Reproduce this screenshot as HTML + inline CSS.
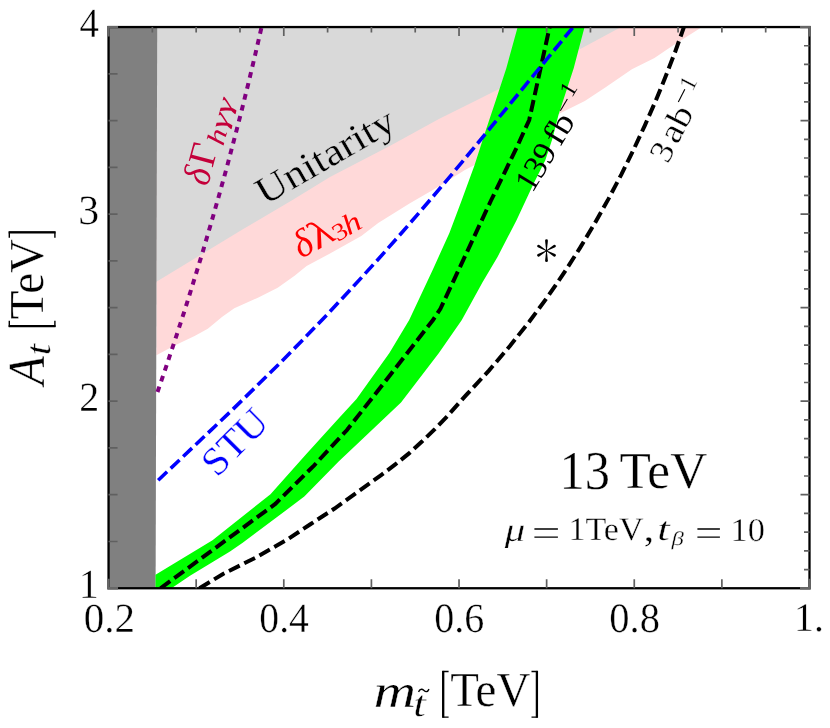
<!DOCTYPE html>
<html>
<head>
<meta charset="utf-8">
<title>Chart</title>
<style>
html,body{margin:0;padding:0;background:#fff;}
body{width:830px;height:728px;overflow:hidden;font-family:"Liberation Serif",serif;}
svg{display:block;will-change:transform;}
text{font-family:"Liberation Serif",serif;text-rendering:geometricPrecision;}
</style>
</head>
<body>
<svg width="830" height="728" viewBox="0 0 830 728">
<defs>
<clipPath id="plot"><rect x="108.55" y="27.05" width="700.95" height="561.20"/></clipPath>
</defs>
<rect x="0" y="0" width="830" height="728" fill="#ffffff"/>
<g clip-path="url(#plot)">
<path id="pink" fill="#ffd9d9" d="M156.4,27.0 L701.6,27.0 L701.6,27.2 L672.9,45.6 L654.5,57.9 L631.9,69.2 L605.3,87.6 L584.8,100.9 L560.2,113.2 L520.0,139.0 L474.6,165.1 L464.9,169.9 L438.4,186.7 L409.5,203.6 L378.2,222.9 L361.3,236.1 L330.0,253.5 L306.6,266.1 L294.6,275.8 L277.7,287.8 L258.4,297.5 L234.3,308.3 L222.3,316.7 L207.8,328.8 L194.6,336.0 L174.1,345.7 L156.4,355.3 Z"/>
<path id="lgray" fill="#d9d9d9" d="M156.4,27.0 L620.7,27.2 L580.7,48.7 L540.0,68.5 L500.0,88.5 L474.6,101.2 L438.4,119.3 L390.2,145.8 L330.0,177.1 L292.5,200.0 L241.6,230.0 L156.4,281.8 Z"/>
<path id="dgray" d="M108,27H157.2L155.6,588H108Z" fill="#808080"/>
<path id="green" fill="#00ff00" d="M155.5,574.8 L212.5,540.3 L270.5,494.2 L305.9,454.6 L337.2,420.0 L356.5,399.1 L389.4,353.0 L409.2,320.0 L433.0,269.2 L449.4,233.0 L461.8,200.0 L474.6,165.1 L483.9,136.1 L495.9,100.0 L506.3,68.2 L517.6,27.2 L584.5,27.2 L573.7,68.2 L558.6,114.5 L552.5,138.6 L545.3,160.2 L533.3,184.3 L516.4,220.5 L497.5,257.0 L482.4,282.4 L461.8,320.0 L438.9,353.0 L401.0,402.4 L361.4,440.0 L338.9,461.2 L304.3,496.6 L242.7,542.8 L230.0,551.5 L190.0,575.8 L171.5,588.3 L155.5,588.0 Z"/>
<path id="purple" fill="none" stroke="#800080" stroke-width="4" stroke-dasharray="5.7 5.6" d="M157.5,392.0 L167.1,363.9 L176.4,335.8 L185.5,307.8 L194.2,279.7 L202.8,251.6 L211.0,223.5 L219.0,195.5 L226.8,167.4 L234.2,139.3 L241.5,111.2 L248.4,83.2 L255.1,55.1 L261.6,27.0"/>
<path id="d139" fill="none" stroke="#000" stroke-width="4" stroke-dasharray="12 5.1" d="M160.5,588.3 L275.3,503.9 L314.2,465.3 L347.0,430.0 L389.4,376.0 L433.0,320.0 L440.4,308.8 L465.9,254.4 L491.0,200.5 L516.4,148.2 L529.2,120.0 L539.1,75.0 L549.6,27.2"/>
<path id="d3ab" fill="none" stroke="#000" stroke-width="4" stroke-dasharray="12 5.1" d="M199.5,588.3 L223.0,574.0 L255.9,557.5 L288.9,538.5 L310.0,524.5 L334.6,508.5 L370.0,483.1 L381.5,474.8 L395.3,464.4 L409.0,453.4 L422.2,441.3 L434.8,429.2 L446.9,416.6 L466.1,395.1 L488.9,370.6 L509.9,346.0 L529.4,321.5 L547.5,297.0 L564.3,272.5 L580.0,247.9 L594.7,223.4 L608.5,198.9 L621.4,174.4 L633.5,149.8 L644.9,125.3 L655.7,100.8 L665.7,76.3 L675.2,51.7 L683.9,27.2"/>
<path id="blue" fill="none" stroke="#0000ff" stroke-width="3.6" stroke-dasharray="12.2 5" d="M158.2,480.2 L182.6,457.1 L207.0,433.9 L231.5,410.6 L255.9,386.8 L280.3,362.7 L304.7,337.9 L329.1,312.5 L353.5,286.3 L378.0,259.5 L402.4,232.0 L426.8,203.8 L451.2,175.1 L475.6,145.8 L500.0,116.2 L524.5,86.4 L548.9,56.6 L573.3,26.9"/>
</g>
<rect x="108.55" y="27.05" width="700.95" height="561.20" fill="none" stroke="#000" stroke-width="2.3"/>
<path id="ticks" stroke="#606060" stroke-width="1.7" fill="none" d="M196.17,588.25V579.25M283.79,588.25V579.25M371.41,588.25V579.25M459.03,588.25V579.25M546.64,588.25V579.25M634.26,588.25V579.25M721.88,588.25V579.25M152.36,27.05V32.55M196.17,27.05V32.55M239.98,27.05V32.55M283.79,27.05V36.05M327.60,27.05V32.55M371.41,27.05V32.55M415.22,27.05V32.55M459.03,27.05V36.05M502.83,27.05V32.55M546.64,27.05V32.55M590.45,27.05V32.55M634.26,27.05V36.05M678.07,27.05V32.55M721.88,27.05V32.55M765.69,27.05V32.55M108.55,541.48H117.55M108.55,494.72H117.55M108.55,447.95H117.55M108.55,401.18H117.55M108.55,354.42H117.55M108.55,307.65H117.55M108.55,260.88H117.55M108.55,214.12H117.55M108.55,167.35H117.55M108.55,120.58H117.55M108.55,73.82H117.55M809.50,569.54H804.00M809.50,550.84H804.00M809.50,532.13H804.00M809.50,513.42H804.00M809.50,494.72H800.50M809.50,476.01H804.00M809.50,457.30H804.00M809.50,438.60H804.00M809.50,419.89H804.00M809.50,401.18H800.50M809.50,382.48H804.00M809.50,363.77H804.00M809.50,345.06H804.00M809.50,326.36H804.00M809.50,307.65H800.50M809.50,288.94H804.00M809.50,270.24H804.00M809.50,251.53H804.00M809.50,232.82H804.00M809.50,214.12H800.50M809.50,195.41H804.00M809.50,176.70H804.00M809.50,158.00H804.00M809.50,139.29H804.00M809.50,120.58H800.50M809.50,101.88H804.00M809.50,83.17H804.00M809.50,64.46H804.00M809.50,45.76H804.00"/>
<path id="corners" stroke="#666" stroke-width="2.3" fill="none" stroke-linejoin="miter" d="M118.05,27.05H108.55V36.55M118.05,588.25H108.55V578.75M800.00,27.05H809.50V36.55M800.00,588.25H809.50V578.75"/>
<text transform="translate(79.45,37.28) scale(0.9703,1.0358)" font-size="40" stroke="#fff" stroke-width="0.349">4</text>
<text transform="translate(78.33,224.35) scale(1.0455,1.0426)" font-size="40" stroke="#fff" stroke-width="0.335">3</text>
<text transform="translate(79.33,411.18) scale(0.9970,1.0358)" font-size="40" stroke="#fff" stroke-width="0.344">2</text>
<text transform="translate(79.09,598.28) scale(0.9821,1.0358)" font-size="40" stroke="#fff" stroke-width="0.347">1</text>
<text transform="translate(83.79,631.76) scale(1.0247,1.0352)" font-size="40" stroke="#fff" stroke-width="0.340">0.2</text>
<text transform="translate(259.34,631.76) scale(0.9906,1.0389)" font-size="40" stroke="#fff" stroke-width="0.345">0.4</text>
<text transform="translate(434.32,631.76) scale(1.0011,1.0389)" font-size="40" stroke="#fff" stroke-width="0.343">0.6</text>
<text transform="translate(609.31,631.76) scale(1.0117,1.0389)" font-size="40" stroke="#fff" stroke-width="0.341">0.8</text>
<text transform="translate(794.05,631.17) scale(0.9938,1.0093)" font-size="40" stroke="#fff" stroke-width="0.349">1.</text>

<g transform="translate(376,706.1)"><text transform="translate(-2.53,0.57) scale(1.1797,0.9383)" font-size="50" font-style="italic" stroke="#fff" stroke-width="0.331">m</text><text transform="translate(37.34,9.94) scale(1.3235,1.0744)" font-size="34" font-style="italic" stroke="#fff" stroke-width="0.292">t</text><path d="M42.5,-14.2 C44.5,-18 46.5,-17 48,-15.6 C49.5,-14.2 51.5,-13.6 53,-17" fill="none" stroke="#000" stroke-width="1.4"/><g transform="translate(66,0)"><path d="M6.6,-34.6H1.1V11H6.6" fill="none" stroke="#000" stroke-width="1.4"/><path d="M1.2,-35.2V11.6" stroke="#000" stroke-width="2.3"/><text transform="translate(8.17,-0.42) scale(0.9579,0.9985)" font-size="49" stroke="#fff" stroke-width="0.358">TeV</text><path d="M89.5,-34.6H95V11H89.5" fill="none" stroke="#000" stroke-width="1.4"/><path d="M94.9,-35.2V11.6" stroke="#000" stroke-width="2.3"/></g></g>
<g transform="translate(43.9,387.3) rotate(-90)"><text transform="translate(2.19,0.18) scale(0.9470,1.0409)" font-size="50" font-style="italic" stroke="#fff" stroke-width="0.352">A</text><text transform="translate(32.02,6.46) scale(1.2059,1.0333)" font-size="34" font-style="italic" stroke="#fff" stroke-width="0.313">t</text><g transform="translate(60,0)"><path d="M6.6,-34.6H1.1V11H6.6" fill="none" stroke="#000" stroke-width="1.4"/><path d="M1.2,-35.2V11.6" stroke="#000" stroke-width="2.3"/><text transform="translate(8.17,-0.42) scale(0.9579,0.9985)" font-size="49" stroke="#fff" stroke-width="0.358">TeV</text><path d="M89.5,-34.6H95V11H89.5" fill="none" stroke="#000" stroke-width="1.4"/><path d="M94.9,-35.2V11.6" stroke="#000" stroke-width="2.3"/></g></g>
<text transform="translate(559.44,488.66) scale(0.9516,1.0324)" font-size="53" stroke="#fff" stroke-width="0.353">13</text><text transform="translate(619.55,488.00) scale(0.9702,0.9792)" font-size="53" stroke="#fff" stroke-width="0.359">TeV</text><text transform="translate(504.72,540.62) scale(1.3607,1.1000)" font-size="30" font-style="italic" stroke="#fff" stroke-width="0.284">μ</text><path d="M534.4,529H557.9M534.4,537.1H557.9M697.4,529H719.9M697.4,537.1H719.9" stroke="#000" stroke-width="1.4" fill="none"/><text transform="translate(568.44,540.36) scale(1.0630,1.0256)" font-size="32" stroke="#fff" stroke-width="0.335">1TeV</text><text transform="translate(643.38,541.02) scale(1.3500,1.1687)" font-size="32" stroke="#fff" stroke-width="0.278">,</text><text transform="translate(657.13,540.35) scale(1.3938,1.0459)" font-size="32" font-style="italic" stroke="#fff" stroke-width="0.287">t</text><text transform="translate(671.49,545.17) scale(1.1348,0.8805)" font-size="22" font-style="italic" stroke="#fff" stroke-width="0.347">β</text><text transform="translate(730.61,540.76) scale(1.0732,1.0341)" font-size="32" stroke="#fff" stroke-width="0.332">10</text><path d="M546.85,250.70L547.90,240.70A1.4,1.4 0 0 0 545.10,240.70L546.15,250.70Z" fill="#000"/><path d="M546.15,250.70L545.10,260.70A1.4,1.4 0 0 0 547.90,260.70L546.85,250.70Z" fill="#000"/><path d="M546.67,251.00L555.12,247.34A1.4,1.4 0 0 0 553.72,244.91L546.33,250.40Z" fill="#000"/><path d="M546.67,250.40L539.28,244.91A1.4,1.4 0 0 0 537.88,247.34L546.33,251.00Z" fill="#000"/><path d="M546.33,250.40L537.88,254.06A1.4,1.4 0 0 0 539.28,256.49L546.67,251.00Z" fill="#000"/><path d="M546.33,251.00L553.72,256.49A1.4,1.4 0 0 0 555.12,254.06L546.67,250.40Z" fill="#000"/><circle cx="546.5" cy="250.7" r="1.1" fill="#000"/>
<g transform="translate(219.1,476.1) rotate(-45)"><text transform="translate(-2.98,0.02) scale(1.1208,1.1041)" font-size="36" fill="#0000ff" stroke="#fff" stroke-width="0.315">STU</text></g><g transform="translate(265.9,205.2) rotate(-30)"><text transform="translate(-1.33,-0.16) scale(1.1536,1.0415)" font-size="37" fill="#000" stroke="#d9d9d9" stroke-width="0.319">Unitarity</text></g><g transform="translate(303.6,257.4) rotate(-30)"><text transform="translate(-2.70,0.15) scale(1.0212,1.0509)" font-size="37" font-style="italic" fill="#ff0000">δ</text><text transform="translate(15.04,0.67) scale(1.2853,1.0712)" font-size="37" fill="#ff0000">λ</text><text transform="translate(37.25,3.61) scale(1.0773,0.9361)" font-size="26" fill="#ff0000">3</text><text transform="translate(49.98,3.88) scale(1.3500,1.1083)" font-size="26" font-style="italic" fill="#ff0000">h</text></g><g transform="translate(208,183.9) rotate(-75)"><text transform="translate(-3.14,0.64) scale(0.9606,1.0623)" font-size="37" font-style="italic" fill="#c4003a">δ</text><text transform="translate(16.31,0.18) scale(1.0184,1.0265)" font-size="37" fill="#c4003a">Γ</text><text transform="translate(40.11,5.08) scale(1.2136,0.9917)" font-size="26" font-style="italic" fill="#c4003a">h</text><text transform="translate(56.57,3.50) scale(1.5049,0.9229)" font-size="26" font-style="italic" fill="#c4003a">γγ</text></g><g transform="translate(533.8,191) rotate(-59)"><text transform="translate(-3.19,0.18) scale(1.0033,0.9978)" font-size="33">139</text><text transform="translate(51.21,0.07) scale(1.1118,1.0104)" font-size="33">fb</text><path d="M82.5,-18.6H96.1" stroke="#000" stroke-width="1.1"/><text transform="translate(98.74,-15.13) scale(1.0412,0.9906)" font-size="24">1</text></g><g transform="translate(669.3,161.3) rotate(-63)"><text transform="translate(-3.57,0.18) scale(1.0630,0.9978)" font-size="33" stroke="#fff" stroke-width="0.340">3</text><text transform="translate(18.04,0.06) scale(1.1845,1.0319)" font-size="33" stroke="#fff" stroke-width="0.316">ab</text><path d="M57,-18.9H71.3" stroke="#000" stroke-width="1.1"/><text transform="translate(71.94,-10.83) scale(1.0412,0.9906)" font-size="24" stroke="#fff" stroke-width="0.345">1</text></g>
</svg>
</body>
</html>
